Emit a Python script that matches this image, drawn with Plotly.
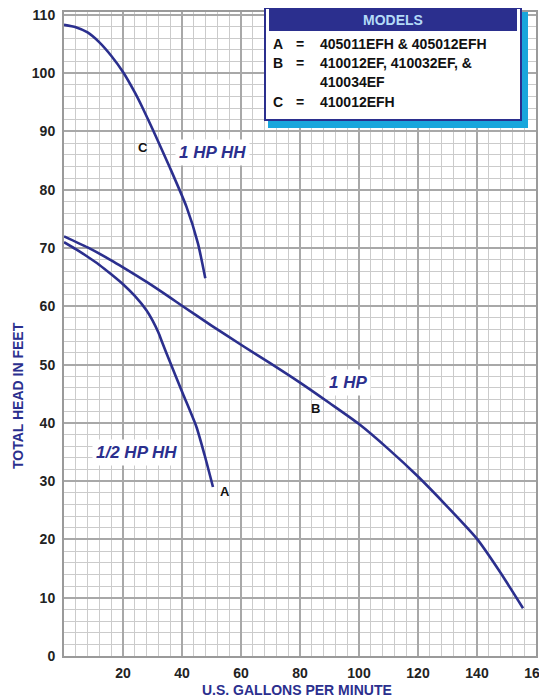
import plotly.graph_objects as go

# Curve A: 1/2 HP HH
a_gpm = [0, 4, 8, 12, 16, 20, 24, 28, 30, 32, 33.3, 35.8, 40.3, 44.9, 47.7, 50.5]
a_head = [71.0, 69.8, 68.5, 67.1, 65.5, 63.8, 61.8, 59.3, 57.6, 55.5, 53.8, 50.6, 45.0, 39.3, 34.4, 29.0]
# Curve B: 1 HP
b_gpm = [0, 8, 16, 20, 28, 36, 40, 50, 60, 70, 80, 90, 100, 110, 120, 130, 140, 147.7, 155.6]
b_head = [72.0, 70.1, 67.9, 66.7, 64.2, 61.5, 60.1, 56.7, 53.4, 50.2, 46.9, 43.4, 39.8, 35.5, 30.8, 25.6, 20.1, 14.5, 8.2]
# Curve C: 1 HP HH
c_gpm = [0, 4, 8, 12, 16, 20, 24, 26.5, 30.2, 35.8, 41.5, 45.4, 47.9]
c_head = [108.3, 107.9, 107.0, 105.3, 103.0, 100.2, 96.7, 94.2, 90.2, 83.9, 77.1, 70.8, 64.8]

x_ticks = [20, 40, 60, 80, 100, 120, 140, 160]
y_ticks = [0, 10, 20, 30, 40, 50, 60, 70, 80, 90, 100, 110]

legend_title = "MODELS"
legend_rows = [
    ("A", "=", "405011EFH & 405012EFH"),
    ("B", "=", "410012EF, 410032EF, &"),
    ("", "", "410034EF"),
    ("C", "=", "410012EFH"),
]

NAVY = "#2b2f8e"
FONT = "Liberation Sans, Arial"
fig = go.Figure()
for xs, ys in [(a_gpm, a_head), (b_gpm, b_head), (c_gpm, c_head)]:
    fig.add_trace(go.Scatter(x=xs, y=ys, mode="lines",
                             line=dict(color=NAVY, width=2.6, shape="spline", smoothing=0.6),
                             showlegend=False, hoverinfo="skip"))

axis_common = dict(showline=True, linecolor="#9a9a9a", linewidth=2, mirror=True,
                   ticks="", zeroline=False, automargin=False, ticklabeloverflow="allow",
                   tickfont=dict(family=FONT, size=14, color="#222", weight="bold"),
                   gridcolor="#a8a8a8", gridwidth=1.6)
fig.update_xaxes(range=[0, 160], tickvals=x_ticks, ticktext=[str(v) for v in x_ticks],
                 minor=dict(dtick=4, tick0=0, showgrid=True, gridcolor="#cbcbcb", gridwidth=1),
                 ticklabelstandoff=3, **axis_common)
fig.update_yaxes(range=[0, 110.5], tickvals=y_ticks, ticktext=[str(v) for v in y_ticks],
                 minor=dict(dtick=2, tick0=0, showgrid=True, gridcolor="#cbcbcb", gridwidth=1),
                 ticklabelstandoff=4, **axis_common)

# page body has an 8px margin: figure is drawn from screen (8,8)
fig.update_layout(width=547, height=690, margin=dict(l=56, r=19, t=4, b=42, autoexpand=False),
                  plot_bgcolor="white", paper_bgcolor="white", showlegend=False)

# helpers: screen pixel -> paper fraction (plot area spans screen x 64..536, y 12..656)
px_x = lambda p: (p - 64) / 472
px_y = lambda p: (656 - p) / 644
shapes = [
    dict(type="rect", xref="paper", yref="paper", x0=px_x(268), x1=px_x(528), y0=px_y(128), y1=px_y(12),
         fillcolor="#19a6dc", line=dict(width=0), layer="above"),
    dict(type="rect", xref="paper", yref="paper", x0=px_x(265), x1=px_x(521), y0=px_y(120), y1=px_y(8),
         fillcolor="white", line=dict(color=NAVY, width=2), layer="above"),
    dict(type="rect", xref="paper", yref="paper", x0=px_x(269), x1=px_x(517), y0=px_y(31), y1=px_y(9),
         fillcolor=NAVY, line=dict(width=0), layer="above"),
]
fig.update_layout(shapes=shapes)

ann = []
ann.append(dict(xref="paper", yref="paper", x=px_x(393), y=px_y(20), xanchor="center", yanchor="middle",
                text="<b>" + legend_title + "</b>",
                showarrow=False, font=dict(family=FONT, size=14, color="#b4dbf8")))
row_y = [44, 63, 82, 102]
for (letter, eq, txt), yy in zip(legend_rows, row_y):
    if letter:
        ann.append(dict(xref="paper", yref="paper", x=px_x(271), y=px_y(yy), xanchor="left", yanchor="middle",
                        text="<b>" + letter + "</b>",
                        showarrow=False, font=dict(family=FONT, size=14, color="#111")))
        ann.append(dict(xref="paper", yref="paper", x=px_x(300), y=px_y(yy), xanchor="center", yanchor="middle",
                        text="<b>" + eq + "</b>",
                        showarrow=False, font=dict(family=FONT, size=14, color="#111")))
    ann.append(dict(xref="paper", yref="paper", x=px_x(318), y=px_y(yy), xanchor="left", yanchor="middle",
                    text="<b>" + txt + "</b>",
                    showarrow=False, font=dict(family=FONT, size=14, color="#111")))

# curve labels
lab_font = dict(family=FONT, size=17, color=NAVY)
for x, y, t in [(50.4, 86.4, "1 HP HH"), (24.7, 35.0, "1/2 HP HH"), (96.2, 47.0, "1 HP")]:
    ann.append(dict(x=x, y=y, xanchor="center", yanchor="middle", text="<b><i>" + t + "</i></b>",
                    showarrow=False, font=lab_font, bgcolor="white", borderpad=3))
let_font = dict(family=FONT, size=13, color="#111")
for x, y, t in [(26.7, 87.3, "C"), (54.5, 28.3, "A"), (85.3, 42.5, "B")]:
    ann.append(dict(x=x, y=y, xanchor="center", yanchor="middle", text="<b>" + t + "</b>",
                    showarrow=False, font=let_font))

# axis titles
ann.append(dict(xref="paper", yref="paper", x=px_x(297), y=px_y(690), xanchor="center", yanchor="middle",
                text="<b>U.S. GALLONS PER MINUTE</b>",
                showarrow=False, font=dict(family=FONT, size=14, color=NAVY)))
ann.append(dict(xref="paper", yref="paper", x=px_x(18), y=px_y(396), xanchor="center", yanchor="middle",
                text="<b>TOTAL HEAD IN FEET</b>",
                textangle=-90, showarrow=False, font=dict(family=FONT, size=14, color=NAVY)))
fig.update_layout(annotations=ann)

fig.write_html("out.html")
